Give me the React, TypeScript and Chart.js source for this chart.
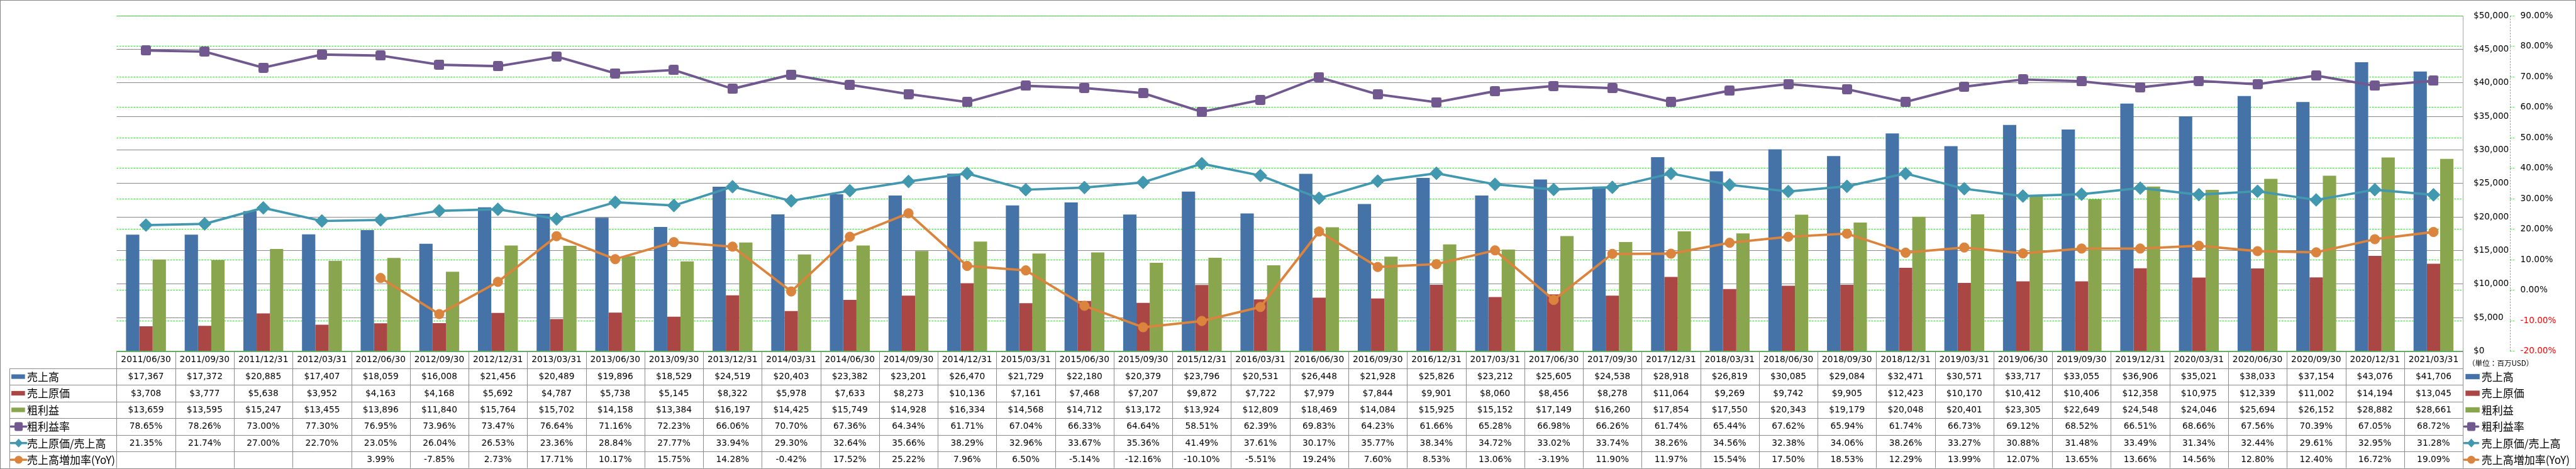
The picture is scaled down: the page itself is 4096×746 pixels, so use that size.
import { useEffect, useRef } from 'react';
import { Chart, registerables } from 'chart.js';

Chart.register(...registerables);

const SCALE = 0.696;
const WIDTH = 4096;
const HEIGHT = 746;

const NUM_FONT = '"DejaVu Sans", "Noto Sans CJK JP", sans-serif';
const JP_FONT = '"Noto Sans CJK JP", "DejaVu Sans", sans-serif';

const categories = [
  '2011/06/30', '2011/09/30', '2011/12/31', '2012/03/31',
  '2012/06/30', '2012/09/30', '2012/12/31', '2013/03/31',
  '2013/06/30', '2013/09/30', '2013/12/31', '2014/03/31',
  '2014/06/30', '2014/09/30', '2014/12/31', '2015/03/31',
  '2015/06/30', '2015/09/30', '2015/12/31', '2016/03/31',
  '2016/06/30', '2016/09/30', '2016/12/31', '2017/03/31',
  '2017/06/30', '2017/09/30', '2017/12/31', '2018/03/31',
  '2018/06/30', '2018/09/30', '2018/12/31', '2019/03/31',
  '2019/06/30', '2019/09/30', '2019/12/31', '2020/03/31',
  '2020/06/30', '2020/09/30', '2020/12/31', '2021/03/31',
];

const salesValues = [
  17367, 17372, 20885, 17407, 18059, 16008, 21456, 20489, 19896, 18529,
  24519, 20403, 23382, 23201, 26470, 21729, 22180, 20379, 23796, 20531,
  26448, 21928, 25826, 23212, 25605, 24538, 28918, 26819, 30085, 29084,
  32471, 30571, 33717, 33055, 36906, 35021, 38033, 37154, 43076, 41706,
];

const costValues = [
  3708, 3777, 5638, 3952, 4163, 4168, 5692, 4787, 5738, 5145,
  8322, 5978, 7633, 8273, 10136, 7161, 7468, 7207, 9872, 7722,
  7979, 7844, 9901, 8060, 8456, 8278, 11064, 9269, 9742, 9905,
  12423, 10170, 10412, 10406, 12358, 10975, 12339, 11002, 14194, 13045,
];

const grossProfitValues = [
  13659, 13595, 15247, 13455, 13896, 11840, 15764, 15702, 14158, 13384,
  16197, 14425, 15749, 14928, 16334, 14568, 14712, 13172, 13924, 12809,
  18469, 14084, 15925, 15152, 17149, 16260, 17854, 17550, 20343, 19179,
  20048, 20401, 23305, 22649, 24548, 24046, 25694, 26152, 28882, 28661,
];

const grossMarginPct = [
  78.65, 78.26, 73.0, 77.3, 76.95, 73.96, 73.47, 76.64, 71.16, 72.23,
  66.06, 70.7, 67.36, 64.34, 61.71, 67.04, 66.33, 64.64, 58.51, 62.39,
  69.83, 64.23, 61.66, 65.28, 66.98, 66.26, 61.74, 65.44, 67.62, 65.94,
  61.74, 66.73, 69.12, 68.52, 66.51, 68.66, 67.56, 70.39, 67.05, 68.72,
];

const costRatioPct = [
  21.35, 21.74, 27.0, 22.7, 23.05, 26.04, 26.53, 23.36, 28.84, 27.77,
  33.94, 29.3, 32.64, 35.66, 38.29, 32.96, 33.67, 35.36, 41.49, 37.61,
  30.17, 35.77, 38.34, 34.72, 33.02, 33.74, 38.26, 34.56, 32.38, 34.06,
  38.26, 33.27, 30.88, 31.48, 33.49, 31.34, 32.44, 29.61, 32.95, 31.28,
];

const salesGrowthPct: (number | null)[] = [
  null, null, null, null, 3.99, -7.85, 2.73, 17.71, 10.17, 15.75,
  14.28, -0.42, 17.52, 25.22, 7.96, 6.5, -5.14, -12.16, -10.1, -5.51,
  19.24, 7.6, 8.53, 13.06, -3.19, 11.9, 11.97, 15.54, 17.5, 18.53,
  12.29, 13.99, 12.07, 13.65, 13.66, 14.56, 12.8, 12.4, 16.72, 19.09,
];

const seriesNames = ['売上高', '売上原価', '粗利益', '粗利益率', '売上原価/売上高', '売上高増加率(YoY)'];
const seriesColors = ['#4572A7', '#AA4643', '#89A54E', '#71588F', '#4198AF', '#DB843D'];

const moneyMin = 0;
const moneyMax = 50000;
const moneyStep = 5000;
const pctMin = -20;
const pctMax = 90;
const pctStep = 10;
const unitLabel = '（単位：百万USD）';

const fmtMoney = (v: number) => '$' + Math.round(v).toLocaleString('en-US');
const fmtPct = (v: number | null | undefined) =>
  v === null || v === undefined ? '' : Number(v).toFixed(2) + '%';

const tableRows: { values: (number | null)[]; fmt: (v: any) => string }[] = [
  { values: salesValues, fmt: fmtMoney },
  { values: costValues, fmt: fmtMoney },
  { values: grossProfitValues, fmt: fmtMoney },
  { values: grossMarginPct, fmt: fmtPct },
  { values: costRatioPct, fmt: fmtPct },
  { values: salesGrowthPct, fmt: fmtPct },
];

// layout (reference pixels * SCALE)
const PLOT_LEFT = 266.5 * SCALE;
const PLOT_TOP = 15 * SCALE;
const PLOT_BOTTOM = 802.5 * SCALE;
const PLOT_RIGHT = 5626.5 * SCALE;
const MONEY_AXIS_W = (5734.5 - 5626.5) * SCALE;
const PCT_AXIS_W = 80;
const PAD_RIGHT = WIDTH - PLOT_RIGHT - MONEY_AXIS_W - PCT_AXIS_W;
const HEAD_H = 39.2 * SCALE;
const ROW_H = 38 * SCALE;
const LEG_LEFT = 21.7 * SCALE;

const GRID_GRAY = '#8A8A8A';
const TABLE_LINE = '#8C8C8C';
const GREEN = '#00FF00';

function drawLegendKey(
  ctx: CanvasRenderingContext2D,
  i: number,
  x1: number,
  x2: number,
  cy: number,
  barH: number,
) {
  const color = seriesColors[i];
  ctx.save();
  if (i < 3) {
    ctx.fillStyle = color;
    ctx.fillRect(x1, cy - barH / 2, x2 - x1, barH);
    ctx.restore();
    return;
  }
  ctx.strokeStyle = color;
  ctx.lineWidth = 3.5;
  ctx.lineCap = 'round';
  ctx.beginPath();
  ctx.moveTo(x1, cy);
  ctx.lineTo(x2, cy);
  ctx.stroke();
  const cx = (x1 + x2) / 2;
  ctx.fillStyle = color;
  ctx.beginPath();
  if (i === 3) {
    (ctx as any).roundRect(cx - 6.5, cy - 7, 13, 14, 2.5);
  } else if (i === 4) {
    ctx.moveTo(cx - 6.5, cy);
    ctx.lineTo(cx, cy - 7);
    ctx.lineTo(cx + 6.5, cy);
    ctx.lineTo(cx, cy + 7);
    ctx.closePath();
  } else {
    ctx.arc(cx, cy, 6.3, 0, Math.PI * 2);
  }
  ctx.fill();
  ctx.restore();
}

const crisp = (v: number) => Math.round(v) + 0.5;

const tablePlugin = {
  id: 'dataTable',
  beforeDraw(chart: any) {
    const ctx: CanvasRenderingContext2D = chart.ctx;
    ctx.save();
    ctx.fillStyle = '#FFFFFF';
    ctx.fillRect(0, 0, chart.width, chart.height);
    ctx.restore();
  },
  afterDraw(chart: any) {
    const ctx: CanvasRenderingContext2D = chart.ctx;
    const a = chart.chartArea;
    const xs = chart.scales.x;
    const pctScale = chart.scales.y1;
    const n = categories.length;
    const colW = (a.right - a.left) / n;
    const headTop = a.bottom;
    const tableTop = headTop + HEAD_H;
    const tableBottom = tableTop + tableRows.length * ROW_H;

    ctx.save();

    // dashed green percent axis line
    ctx.strokeStyle = GREEN;
    ctx.lineWidth = 1;
    ctx.setLineDash([2.5, 2]);
    ctx.beginPath();
    const ax = crisp(pctScale.left);
    ctx.moveTo(ax, a.top);
    ctx.lineTo(ax, a.bottom);
    ctx.stroke();
    ctx.setLineDash([]);

    // table grid
    ctx.strokeStyle = TABLE_LINE;
    ctx.lineWidth = 1;
    ctx.beginPath();
    ctx.moveTo(a.left, crisp(headTop));
    ctx.lineTo(a.right, crisp(headTop));
    for (let r = 0; r <= tableRows.length; r++) {
      const y = crisp(tableTop + r * ROW_H);
      ctx.moveTo(LEG_LEFT, y);
      ctx.lineTo(a.right, y);
    }
    ctx.moveTo(crisp(LEG_LEFT), tableTop);
    ctx.lineTo(crisp(LEG_LEFT), tableBottom);
    for (let i = 0; i <= n; i++) {
      const x = crisp(a.left + i * colW);
      ctx.moveTo(x, headTop);
      ctx.lineTo(x, tableBottom);
    }
    ctx.stroke();

    // header (category labels)
    ctx.fillStyle = '#000000';
    ctx.textAlign = 'center';
    ctx.textBaseline = 'middle';
    ctx.font = `13.8px ${NUM_FONT}`;
    categories.forEach((c, i) => {
      ctx.fillText(c, xs.getPixelForValue(i), headTop + HEAD_H / 2 + 0.5);
    });

    // cells
    tableRows.forEach((row, r) => {
      const cy = tableTop + (r + 0.5) * ROW_H + 0.5;
      row.values.forEach((v, i) => {
        const t = row.fmt(v);
        if (t) ctx.fillText(t, xs.getPixelForValue(i), cy);
      });
    });

    // legends (left in table, right beside the table)
    ctx.textAlign = 'left';
    ctx.font = `17px ${JP_FONT}`;
    seriesNames.forEach((name, i) => {
      const cy = tableTop + (i + 0.5) * ROW_H;
      if (i < 3) drawLegendKey(ctx, i, 18.1, 39.7, cy, 7.2);
      else drawLegendKey(ctx, i, 17.4, 41.8, cy, 7.2);
      ctx.fillStyle = '#000000';
      ctx.fillText(name, 42.9, cy + 0.5);

      if (i < 3) drawLegendKey(ctx, i, 3920.3, 3942.8, cy, 8.4);
      else drawLegendKey(ctx, i, 3918.5, 3940.5, cy, 8.4);
      ctx.fillStyle = '#000000';
      ctx.fillText(name, 3945.8, cy + 0.5);
    });

    // unit label
    ctx.font = `11.6px ${JP_FONT}`;
    ctx.fillText(unitLabel, 3924, 830 * SCALE);

    // outer chart border
    ctx.strokeStyle = '#868686';
    ctx.lineWidth = 1;
    ctx.strokeRect(0.5, 0.5, chart.width - 1, chart.height - 1);

    ctx.restore();
  },
};

export default function App() {
  const ref = useRef<HTMLCanvasElement>(null);

  useEffect(() => {
    document.body.style.margin = '0';
    const canvas = ref.current;
    if (!canvas) return;

    const purpleMarker = document.createElement('canvas');
    purpleMarker.width = 16;
    purpleMarker.height = 16;
    const g = purpleMarker.getContext('2d')!;
    g.fillStyle = seriesColors[3];
    g.beginPath();
    (g as any).roundRect(0, 0, 16, 16, 3);
    g.fill();

    const barCommon = {
      type: 'bar' as const,
      yAxisID: 'y',
      order: 10,
      categoryPercentage: 0.68,
      barPercentage: 1,
      borderWidth: 0,
    };
    const lineCommon = {
      type: 'line' as const,
      yAxisID: 'y1',
      tension: 0,
      fill: false,
      borderJoinStyle: 'round' as const,
      borderCapStyle: 'round' as const,
      pointBorderWidth: 1,
    };

    const chart = new Chart(canvas, {
      type: 'bar',
      data: {
        labels: categories,
        datasets: [
          { ...barCommon, label: seriesNames[0], data: salesValues, backgroundColor: seriesColors[0] },
          { ...barCommon, label: seriesNames[1], data: costValues, backgroundColor: seriesColors[1] },
          { ...barCommon, label: seriesNames[2], data: grossProfitValues, backgroundColor: seriesColors[2] },
          {
            ...lineCommon,
            label: seriesNames[3],
            data: grossMarginPct,
            borderColor: seriesColors[3],
            backgroundColor: seriesColors[3],
            pointBackgroundColor: seriesColors[3],
            pointBorderColor: seriesColors[3],
            borderWidth: 3.9,
            pointStyle: purpleMarker,
            pointRadius: 8,
            order: 2,
          },
          {
            ...lineCommon,
            label: seriesNames[4],
            data: costRatioPct,
            borderColor: seriesColors[4],
            backgroundColor: seriesColors[4],
            pointBackgroundColor: seriesColors[4],
            pointBorderColor: seriesColors[4],
            borderWidth: 3.7,
            pointStyle: 'rectRot',
            pointRadius: 10.3,
            order: 1,
          },
          {
            ...lineCommon,
            label: seriesNames[5],
            data: salesGrowthPct,
            borderColor: seriesColors[5],
            backgroundColor: seriesColors[5],
            pointBackgroundColor: seriesColors[5],
            pointBorderColor: seriesColors[5],
            borderWidth: 3.8,
            pointStyle: 'circle',
            pointRadius: 7.6,
            order: 0,
          },
        ] as any,
      },
      options: {
        responsive: false,
        animation: false,
        devicePixelRatio: 1,
        events: [],
        layout: {
          padding: {
            left: PLOT_LEFT,
            top: PLOT_TOP,
            right: PAD_RIGHT,
            bottom: HEIGHT - PLOT_BOTTOM,
          },
        },
        plugins: {
          legend: { display: false },
          tooltip: { enabled: false },
        },
        scales: {
          x: {
            type: 'category',
            display: false,
            offset: true,
            grid: { display: false },
          },
          y: {
            type: 'linear',
            position: 'right',
            weight: 0,
            min: moneyMin,
            max: moneyMax,
            ticks: {
              stepSize: moneyStep,
              padding: 17,
              autoSkip: false,
              crossAlign: 'near',
              color: '#000000',
              font: { family: NUM_FONT, size: 13.6 },
              callback: (v: any) => fmtMoney(Number(v)),
            },
            grid: { color: GRID_GRAY, lineWidth: 1, drawTicks: false },
            border: { display: true, color: '#A6A6A6', width: 1 },
            afterFit: (s: any) => {
              s.width = MONEY_AXIS_W;
            },
          },
          y1: {
            type: 'linear',
            position: 'right',
            weight: 1,
            min: pctMin,
            max: pctMax,
            ticks: {
              stepSize: pctStep,
              padding: 10.1,
              autoSkip: false,
              crossAlign: 'near',
              color: (c: any) => (c.tick && c.tick.value < 0 ? '#FF0000' : '#000000'),
              font: { family: NUM_FONT, size: 13.6 },
              callback: (v: any) => fmtPct(Number(v)),
            },
            grid: {
              color: GREEN,
              lineWidth: 1,
              drawTicks: true,
              tickLength: 6.3,
              tickColor: GREEN,
              tickWidth: 1,
              tickBorderDash: [2.5, 2],
            },
            border: { display: false, dash: [2.5, 2] },
            afterFit: (s: any) => {
              s.width = PCT_AXIS_W;
            },
          },
        },
      } as any,
      plugins: [tablePlugin],
    });

    return () => chart.destroy();
  }, []);

  return (
    <div style={{ position: 'fixed', left: 0, top: 0, width: WIDTH, height: HEIGHT, background: '#fff' }}>
      <canvas ref={ref} width={WIDTH} height={HEIGHT} style={{ display: 'block', width: WIDTH, height: HEIGHT }} />
    </div>
  );
}
